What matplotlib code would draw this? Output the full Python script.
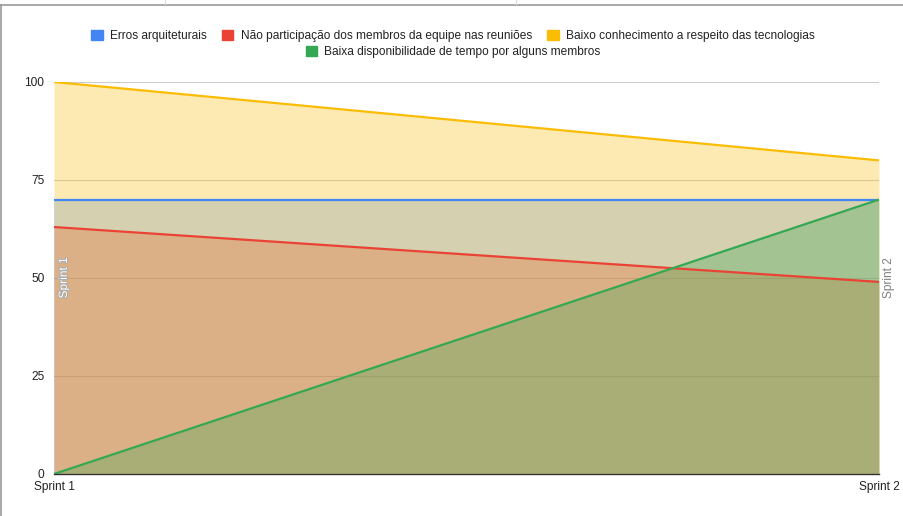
import matplotlib
matplotlib.use("Agg")
import matplotlib.pyplot as plt
from matplotlib.patches import Patch
from matplotlib.lines import Line2D
import matplotlib.patheffects as pe

plt.rcParams['font.family'] = ['Liberation Sans', 'DejaVu Sans']

categories = ["Sprint 1", "Sprint 2"]
series_names = [
    "Erros arquiteturais",
    "Não participação dos membros da equipe nas reuniões",
    "Baixo conhecimento a respeito das tecnologias",
    "Baixa disponibilidade de tempo por alguns membros",
]
erros = [70, 70]
nao_participacao = [63, 49]
baixo_conhecimento = [100, 80]
baixa_disponibilidade = [0, 70]
series_values = [erros, nao_participacao, baixo_conhecimento, baixa_disponibilidade]
colors = ["#4285F4", "#EA4335", "#FBBC04", "#34A853"]
yticks = [0, 25, 50, 75, 100]

FS = 8.6
W, H = 904, 516
fig = plt.figure(figsize=(W / 100, H / 100), dpi=100)
ax = fig.add_axes([54 / W, 1 - 474 / H, (879 - 54) / W, (474 - 82) / H])

x = list(range(len(categories)))
for vals, c in zip(series_values, colors):
    ax.fill_between(x, 0, vals, color=c, alpha=0.3, linewidth=0, zorder=2)
for vals, c in zip(series_values, colors):
    ax.plot(x, vals, color=c, linewidth=1.6, zorder=3, solid_capstyle='butt')

ax.set_xlim(0, 1)
ax.set_ylim(0, 100)
ax.set_yticks(yticks)
ax.set_yticklabels([str(v) for v in yticks])
ax.set_xticks(x)
ax.set_xticklabels(categories)
ax.tick_params(axis='both', length=0, labelsize=FS, colors="#222222")
ax.tick_params(axis='y', pad=7)
ax.tick_params(axis='x', pad=5)
for s in ['top', 'right', 'left']:
    ax.spines[s].set_visible(False)
ax.spines['bottom'].set_color("#333333")
ax.spines['bottom'].set_linewidth(1)
ax.spines['bottom'].set_zorder(4)
ax.grid(axis='y', color="#cccccc", linewidth=0.8, zorder=1)
ax.set_axisbelow(True)

# Category annotations
ax.text(0.012, 50, categories[0], rotation=90, ha='center', va='center',
        fontsize=FS, color='white', zorder=5,
        path_effects=[pe.withStroke(linewidth=1.4, foreground="#aaaaaa")])
ax.text(1.0 + 10 / 825, 50, categories[1], rotation=90, ha='center', va='center',
        fontsize=FS, color="#808080", zorder=5, clip_on=False)

# Legend
def handle(c):
    return Patch(facecolor=c, edgecolor=c)

leg1 = fig.legend([handle(c) for c in colors[:3]], series_names[:3],
                  loc='center', bbox_to_anchor=(453 / W, 1 - 36 / H), ncol=3,
                  frameon=False, fontsize=FS, handlelength=0.95, handleheight=0.95,
                  handletextpad=0.6, columnspacing=1.3, borderpad=0)
leg2 = fig.legend([handle(colors[3])], series_names[3:],
                  loc='center', bbox_to_anchor=(453 / W, 1 - 52 / H), ncol=1,
                  frameon=False, fontsize=FS, handlelength=0.95, handleheight=0.95,
                  handletextpad=0.6, borderpad=0)
for leg in (leg1, leg2):
    for t in leg.get_texts():
        t.set_color("#222222")

# Frame borders
fig.add_artist(Line2D([0, 1], [1 - 4.5 / H, 1 - 4.5 / H], transform=fig.transFigure,
                      color="#999999", linewidth=1.2))
fig.add_artist(Line2D([1.5 / W, 1.5 / W], [0, 1 - 4.5 / H], transform=fig.transFigure,
                      color="#999999", linewidth=1.2))
for px in (165, 516):
    fig.add_artist(Line2D([px / W, px / W], [1 - 4 / H, 1], transform=fig.transFigure,
                          color="#dddddd", linewidth=0.8))

fig.savefig("out.png", dpi=100)
